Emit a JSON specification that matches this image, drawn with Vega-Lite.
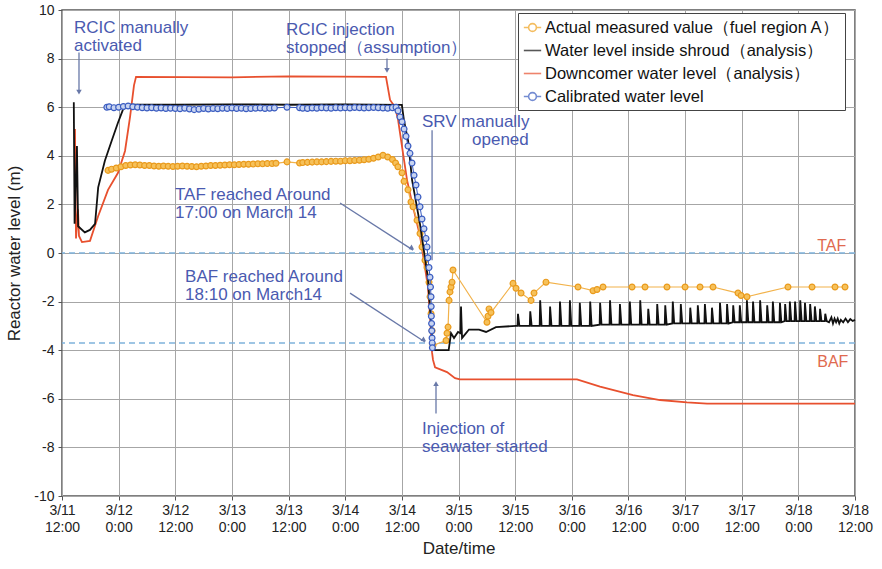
{
"$schema": "https://vega.github.io/schema/vega-lite/v6.json",
"width": 793, "height": 486,
"autosize": {"type": "none"},
"padding": {"left": 62, "top": 10, "right": 27, "bottom": 73},
"background": "white",
"config": {
  "font": "Liberation Sans",
  "view": {"stroke": "#555", "strokeWidth": 1.5},
  "axis": {"labelFont": "Liberation Sans", "titleFont": "Liberation Sans", "labelFontSize": 14, "labelColor": "#222", "titleColor": "#222", "titleFontSize": 17, "titleFontWeight": "normal", "gridColor": "#a6a6a6", "gridWidth": 1, "gridOpacity": 1, "domain": false, "tickColor": "#555", "tickSize": 4}
},
"datasets": {
"levels": [
{"series":"Downcomer water level（analysis）","time":"2011-03-11T14:45Z","level":5.1},
{"series":"Downcomer water level（analysis）","time":"2011-03-11T14:58Z","level":0.6},
{"series":"Downcomer water level（analysis）","time":"2011-03-11T15:23Z","level":1.8},
{"series":"Downcomer water level（analysis）","time":"2011-03-11T15:36Z","level":0.7},
{"series":"Downcomer water level（analysis）","time":"2011-03-11T16:14Z","level":0.45},
{"series":"Downcomer water level（analysis）","time":"2011-03-11T17:56Z","level":0.5},
{"series":"Downcomer water level（analysis）","time":"2011-03-11T19:38Z","level":1.5},
{"series":"Downcomer water level（analysis）","time":"2011-03-11T21:45Z","level":2.6},
{"series":"Downcomer water level（analysis）","time":"2011-03-11T23:52Z","level":3.3},
{"series":"Downcomer water level（analysis）","time":"2011-03-12T01:21Z","level":4.2},
{"series":"Downcomer water level（analysis）","time":"2011-03-12T02:25Z","level":5.6},
{"series":"Downcomer water level（analysis）","time":"2011-03-12T03:15Z","level":6.9},
{"series":"Downcomer water level（analysis）","time":"2011-03-12T03:41Z","level":7.25},
{"series":"Downcomer water level（analysis）","time":"2011-03-13T00:00Z","level":7.23},
{"series":"Downcomer water level（analysis）","time":"2011-03-13T12:00Z","level":7.27},
{"series":"Downcomer water level（analysis）","time":"2011-03-14T08:38Z","level":7.25},
{"series":"Downcomer water level（analysis）","time":"2011-03-14T09:30Z","level":6.3},
{"series":"Downcomer water level（analysis）","time":"2011-03-14T10:33Z","level":6.0},
{"series":"Downcomer water level（analysis）","time":"2011-03-14T11:11Z","level":5.5},
{"series":"Downcomer water level（analysis）","time":"2011-03-14T12:15Z","level":4.1},
{"series":"Downcomer water level（analysis）","time":"2011-03-14T13:06Z","level":3.0},
{"series":"Downcomer water level（analysis）","time":"2011-03-14T14:22Z","level":1.9},
{"series":"Downcomer water level（analysis）","time":"2011-03-14T15:51Z","level":0.7},
{"series":"Downcomer water level（analysis）","time":"2011-03-14T16:54Z","level":-0.6},
{"series":"Downcomer water level（analysis）","time":"2011-03-14T17:32Z","level":-1.4},
{"series":"Downcomer water level（analysis）","time":"2011-03-14T17:58Z","level":-2.6},
{"series":"Downcomer water level（analysis）","time":"2011-03-14T18:24Z","level":-4.1},
{"series":"Downcomer water level（analysis）","time":"2011-03-14T18:36Z","level":-4.4},
{"series":"Downcomer water level（analysis）","time":"2011-03-14T19:02Z","level":-4.7},
{"series":"Downcomer water level（analysis）","time":"2011-03-14T21:34Z","level":-4.9},
{"series":"Downcomer water level（analysis）","time":"2011-03-14T23:16Z","level":-5.15},
{"series":"Downcomer water level（analysis）","time":"2011-03-15T00:19Z","level":-5.2},
{"series":"Downcomer water level（analysis）","time":"2011-03-16T01:06Z","level":-5.2},
{"series":"Downcomer water level（analysis）","time":"2011-03-16T05:59Z","level":-5.5},
{"series":"Downcomer water level（analysis）","time":"2011-03-16T12:58Z","level":-5.85},
{"series":"Downcomer water level（analysis）","time":"2011-03-16T18:41Z","level":-6.05},
{"series":"Downcomer water level（analysis）","time":"2011-03-17T00:24Z","level":-6.15},
{"series":"Downcomer water level（analysis）","time":"2011-03-17T04:39Z","level":-6.2},
{"series":"Downcomer water level（analysis）","time":"2011-03-18T12:00Z","level":-6.2},

{"series":"Water level inside shroud（analysis）","time":"2011-03-11T14:30Z","level":6.2},
{"series":"Water level inside shroud（analysis）","time":"2011-03-11T14:40Z","level":1.2},
{"series":"Water level inside shroud（analysis）","time":"2011-03-11T15:10Z","level":4.4},
{"series":"Water level inside shroud（analysis）","time":"2011-03-11T15:25Z","level":1.1},
{"series":"Water level inside shroud（analysis）","time":"2011-03-11T16:50Z","level":0.85},
{"series":"Water level inside shroud（analysis）","time":"2011-03-11T17:55Z","level":0.95},
{"series":"Water level inside shroud（analysis）","time":"2011-03-11T19:00Z","level":1.2},
{"series":"Water level inside shroud（analysis）","time":"2011-03-11T19:40Z","level":2.7},
{"series":"Water level inside shroud（analysis）","time":"2011-03-11T21:05Z","level":3.8},
{"series":"Water level inside shroud（analysis）","time":"2011-03-11T22:35Z","level":4.65},
{"series":"Water level inside shroud（analysis）","time":"2011-03-11T23:50Z","level":5.35},
{"series":"Water level inside shroud（analysis）","time":"2011-03-12T00:55Z","level":5.9},
{"series":"Water level inside shroud（analysis）","time":"2011-03-12T02:25Z","level":6.1},
{"series":"Water level inside shroud（analysis）","time":"2011-03-12T12:00Z","level":6.1},
{"series":"Water level inside shroud（analysis）","time":"2011-03-13T00:00Z","level":6.12},
{"series":"Water level inside shroud（analysis）","time":"2011-03-13T12:00Z","level":6.1},
{"series":"Water level inside shroud（analysis）","time":"2011-03-14T00:00Z","level":6.12},
{"series":"Water level inside shroud（analysis）","time":"2011-03-14T12:00Z","level":6.1},
{"series":"Water level inside shroud（analysis）","time":"2011-03-14T12:25Z","level":5.5},
{"series":"Water level inside shroud（analysis）","time":"2011-03-14T13:20Z","level":4.6},
{"series":"Water level inside shroud（analysis）","time":"2011-03-14T14:10Z","level":3.0},
{"series":"Water level inside shroud（analysis）","time":"2011-03-14T15:50Z","level":1.2},
{"series":"Water level inside shroud（analysis）","time":"2011-03-14T17:30Z","level":-1.0},
{"series":"Water level inside shroud（analysis）","time":"2011-03-14T18:35Z","level":-4.0},
{"series":"Water level inside shroud（analysis）","time":"2011-03-14T21:55Z","level":-4.0},
{"series":"Water level inside shroud（analysis）","time":"2011-03-14T22:25Z","level":-3.3},
{"series":"Water level inside shroud（analysis）","time":"2011-03-14T23:03Z","level":-3.5},
{"series":"Water level inside shroud（analysis）","time":"2011-03-14T23:54Z","level":-3.25},
{"series":"Water level inside shroud（analysis）","time":"2011-03-15T00:25Z","level":-3.3},
{"series":"Water level inside shroud（analysis）","time":"2011-03-15T00:32Z","level":-2.2},
{"series":"Water level inside shroud（analysis）","time":"2011-03-15T00:45Z","level":-3.5},
{"series":"Water level inside shroud（analysis）","time":"2011-03-15T01:36Z","level":-3.3},
{"series":"Water level inside shroud（analysis）","time":"2011-03-15T02:13Z","level":-3.15},
{"series":"Water level inside shroud（analysis）","time":"2011-03-15T04:21Z","level":-3.15},
{"series":"Water level inside shroud（analysis）","time":"2011-03-15T05:50Z","level":-3.25},
{"series":"Water level inside shroud（analysis）","time":"2011-03-15T07:56Z","level":-3.05},
{"series":"Water level inside shroud（analysis）","time":"2011-03-15T12:11Z","level":-3.0},
{"series":"Water level inside shroud（analysis）","time":"2011-03-15T12:30Z","level":-3.0},
{"series":"Water level inside shroud（analysis）","time":"2011-03-15T12:36Z","level":-2.5},
{"series":"Water level inside shroud（analysis）","time":"2011-03-15T12:54Z","level":-3.0},
{"series":"Water level inside shroud（analysis）","time":"2011-03-15T15:06Z","level":-3.0},
{"series":"Water level inside shroud（analysis）","time":"2011-03-15T15:12Z","level":-2.4},
{"series":"Water level inside shroud（analysis）","time":"2011-03-15T15:30Z","level":-3.0},
{"series":"Water level inside shroud（analysis）","time":"2011-03-15T17:12Z","level":-3.0},
{"series":"Water level inside shroud（analysis）","time":"2011-03-15T17:18Z","level":-1.95},
{"series":"Water level inside shroud（analysis）","time":"2011-03-15T17:36Z","level":-3.0},
{"series":"Water level inside shroud（analysis）","time":"2011-03-15T19:18Z","level":-3.0},
{"series":"Water level inside shroud（analysis）","time":"2011-03-15T19:24Z","level":-2.2},
{"series":"Water level inside shroud（analysis）","time":"2011-03-15T19:42Z","level":-3.0},
{"series":"Water level inside shroud（analysis）","time":"2011-03-15T21:24Z","level":-3.0},
{"series":"Water level inside shroud（analysis）","time":"2011-03-15T21:30Z","level":-2.0},
{"series":"Water level inside shroud（analysis）","time":"2011-03-15T21:48Z","level":-3.0},
{"series":"Water level inside shroud（analysis）","time":"2011-03-15T23:30Z","level":-3.0},
{"series":"Water level inside shroud（analysis）","time":"2011-03-15T23:36Z","level":-1.95},
{"series":"Water level inside shroud（analysis）","time":"2011-03-15T23:54Z","level":-3.0},
{"series":"Water level inside shroud（analysis）","time":"2011-03-16T01:36Z","level":-3.0},
{"series":"Water level inside shroud（analysis）","time":"2011-03-16T01:42Z","level":-2.05},
{"series":"Water level inside shroud（analysis）","time":"2011-03-16T02:00Z","level":-3.0},
{"series":"Water level inside shroud（analysis）","time":"2011-03-16T03:48Z","level":-3.0},
{"series":"Water level inside shroud（analysis）","time":"2011-03-16T03:54Z","level":-2.0},
{"series":"Water level inside shroud（analysis）","time":"2011-03-16T04:12Z","level":-3.0},
{"series":"Water level inside shroud（analysis）","time":"2011-03-16T05:54Z","level":-2.95},
{"series":"Water level inside shroud（analysis）","time":"2011-03-16T06:00Z","level":-2.05},
{"series":"Water level inside shroud（analysis）","time":"2011-03-16T06:18Z","level":-2.95},
{"series":"Water level inside shroud（analysis）","time":"2011-03-16T08:00Z","level":-2.95},
{"series":"Water level inside shroud（analysis）","time":"2011-03-16T08:06Z","level":-1.95},
{"series":"Water level inside shroud（analysis）","time":"2011-03-16T08:24Z","level":-2.95},
{"series":"Water level inside shroud（analysis）","time":"2011-03-16T10:06Z","level":-2.95},
{"series":"Water level inside shroud（analysis）","time":"2011-03-16T10:12Z","level":-2.1},
{"series":"Water level inside shroud（analysis）","time":"2011-03-16T10:30Z","level":-2.95},
{"series":"Water level inside shroud（analysis）","time":"2011-03-16T12:12Z","level":-2.95},
{"series":"Water level inside shroud（analysis）","time":"2011-03-16T12:18Z","level":-2.0},
{"series":"Water level inside shroud（analysis）","time":"2011-03-16T12:36Z","level":-2.95},
{"series":"Water level inside shroud（analysis）","time":"2011-03-16T14:24Z","level":-2.95},
{"series":"Water level inside shroud（analysis）","time":"2011-03-16T14:30Z","level":-1.95},
{"series":"Water level inside shroud（analysis）","time":"2011-03-16T14:48Z","level":-2.95},
{"series":"Water level inside shroud（analysis）","time":"2011-03-16T16:06Z","level":-2.95},
{"series":"Water level inside shroud（analysis）","time":"2011-03-16T16:12Z","level":-2.3},
{"series":"Water level inside shroud（analysis）","time":"2011-03-16T16:30Z","level":-2.95},
{"series":"Water level inside shroud（analysis）","time":"2011-03-16T18:00Z","level":-2.95},
{"series":"Water level inside shroud（analysis）","time":"2011-03-16T18:06Z","level":-2.1},
{"series":"Water level inside shroud（analysis）","time":"2011-03-16T18:24Z","level":-2.95},
{"series":"Water level inside shroud（analysis）","time":"2011-03-16T19:42Z","level":-2.95},
{"series":"Water level inside shroud（analysis）","time":"2011-03-16T19:48Z","level":-2.15},
{"series":"Water level inside shroud（analysis）","time":"2011-03-16T20:06Z","level":-2.95},
{"series":"Water level inside shroud（analysis）","time":"2011-03-16T21:18Z","level":-2.9},
{"series":"Water level inside shroud（analysis）","time":"2011-03-16T21:24Z","level":-2.0},
{"series":"Water level inside shroud（analysis）","time":"2011-03-16T21:42Z","level":-2.9},
{"series":"Water level inside shroud（analysis）","time":"2011-03-16T23:00Z","level":-2.9},
{"series":"Water level inside shroud（analysis）","time":"2011-03-16T23:06Z","level":-2.1},
{"series":"Water level inside shroud（analysis）","time":"2011-03-16T23:24Z","level":-2.9},
{"series":"Water level inside shroud（analysis）","time":"2011-03-17T01:00Z","level":-2.9},
{"series":"Water level inside shroud（analysis）","time":"2011-03-17T01:06Z","level":-2.25},
{"series":"Water level inside shroud（analysis）","time":"2011-03-17T01:24Z","level":-2.9},
{"series":"Water level inside shroud（analysis）","time":"2011-03-17T02:36Z","level":-2.9},
{"series":"Water level inside shroud（analysis）","time":"2011-03-17T02:42Z","level":-2.15},
{"series":"Water level inside shroud（analysis）","time":"2011-03-17T03:00Z","level":-2.9},
{"series":"Water level inside shroud（analysis）","time":"2011-03-17T04:06Z","level":-2.9},
{"series":"Water level inside shroud（analysis）","time":"2011-03-17T04:12Z","level":-2.1},
{"series":"Water level inside shroud（analysis）","time":"2011-03-17T04:30Z","level":-2.9},
{"series":"Water level inside shroud（analysis）","time":"2011-03-17T05:36Z","level":-2.9},
{"series":"Water level inside shroud（analysis）","time":"2011-03-17T05:42Z","level":-2.25},
{"series":"Water level inside shroud（analysis）","time":"2011-03-17T06:00Z","level":-2.9},
{"series":"Water level inside shroud（analysis）","time":"2011-03-17T07:18Z","level":-2.9},
{"series":"Water level inside shroud（analysis）","time":"2011-03-17T07:24Z","level":-2.05},
{"series":"Water level inside shroud（analysis）","time":"2011-03-17T07:42Z","level":-2.9},
{"series":"Water level inside shroud（analysis）","time":"2011-03-17T08:48Z","level":-2.9},
{"series":"Water level inside shroud（analysis）","time":"2011-03-17T08:54Z","level":-2.1},
{"series":"Water level inside shroud（analysis）","time":"2011-03-17T09:12Z","level":-2.9},
{"series":"Water level inside shroud（analysis）","time":"2011-03-17T10:06Z","level":-2.85},
{"series":"Water level inside shroud（analysis）","time":"2011-03-17T10:12Z","level":-2.15},
{"series":"Water level inside shroud（analysis）","time":"2011-03-17T10:30Z","level":-2.85},
{"series":"Water level inside shroud（analysis）","time":"2011-03-17T11:30Z","level":-2.85},
{"series":"Water level inside shroud（analysis）","time":"2011-03-17T11:36Z","level":-2.15},
{"series":"Water level inside shroud（analysis）","time":"2011-03-17T11:54Z","level":-2.85},
{"series":"Water level inside shroud（analysis）","time":"2011-03-17T13:00Z","level":-2.85},
{"series":"Water level inside shroud（analysis）","time":"2011-03-17T13:06Z","level":-1.95},
{"series":"Water level inside shroud（analysis）","time":"2011-03-17T13:24Z","level":-2.85},
{"series":"Water level inside shroud（analysis）","time":"2011-03-17T14:18Z","level":-2.85},
{"series":"Water level inside shroud（analysis）","time":"2011-03-17T14:24Z","level":-2.0},
{"series":"Water level inside shroud（analysis）","time":"2011-03-17T14:42Z","level":-2.85},
{"series":"Water level inside shroud（analysis）","time":"2011-03-17T15:48Z","level":-2.85},
{"series":"Water level inside shroud（analysis）","time":"2011-03-17T15:54Z","level":-1.95},
{"series":"Water level inside shroud（analysis）","time":"2011-03-17T16:12Z","level":-2.85},
{"series":"Water level inside shroud（analysis）","time":"2011-03-17T17:18Z","level":-2.85},
{"series":"Water level inside shroud（analysis）","time":"2011-03-17T17:24Z","level":-2.15},
{"series":"Water level inside shroud（analysis）","time":"2011-03-17T17:42Z","level":-2.85},
{"series":"Water level inside shroud（analysis）","time":"2011-03-17T18:30Z","level":-2.85},
{"series":"Water level inside shroud（analysis）","time":"2011-03-17T18:36Z","level":-2.0},
{"series":"Water level inside shroud（analysis）","time":"2011-03-17T18:54Z","level":-2.85},
{"series":"Water level inside shroud（analysis）","time":"2011-03-17T20:00Z","level":-2.85},
{"series":"Water level inside shroud（analysis）","time":"2011-03-17T20:06Z","level":-2.05},
{"series":"Water level inside shroud（analysis）","time":"2011-03-17T20:24Z","level":-2.85},
{"series":"Water level inside shroud（analysis）","time":"2011-03-17T21:06Z","level":-2.8},
{"series":"Water level inside shroud（analysis）","time":"2011-03-17T21:12Z","level":-2.1},
{"series":"Water level inside shroud（analysis）","time":"2011-03-17T21:30Z","level":-2.8},
{"series":"Water level inside shroud（analysis）","time":"2011-03-17T22:06Z","level":-2.8},
{"series":"Water level inside shroud（analysis）","time":"2011-03-17T22:12Z","level":-2.0},
{"series":"Water level inside shroud（analysis）","time":"2011-03-17T22:30Z","level":-2.8},
{"series":"Water level inside shroud（analysis）","time":"2011-03-17T23:12Z","level":-2.8},
{"series":"Water level inside shroud（analysis）","time":"2011-03-17T23:18Z","level":-2.0},
{"series":"Water level inside shroud（analysis）","time":"2011-03-17T23:36Z","level":-2.8},
{"series":"Water level inside shroud（analysis）","time":"2011-03-18T00:18Z","level":-2.8},
{"series":"Water level inside shroud（analysis）","time":"2011-03-18T00:24Z","level":-1.95},
{"series":"Water level inside shroud（analysis）","time":"2011-03-18T00:42Z","level":-2.8},
{"series":"Water level inside shroud（analysis）","time":"2011-03-18T01:18Z","level":-2.8},
{"series":"Water level inside shroud（analysis）","time":"2011-03-18T01:24Z","level":-2.05},
{"series":"Water level inside shroud（analysis）","time":"2011-03-18T01:42Z","level":-2.8},
{"series":"Water level inside shroud（analysis）","time":"2011-03-18T02:24Z","level":-2.8},
{"series":"Water level inside shroud（analysis）","time":"2011-03-18T02:30Z","level":-2.1},
{"series":"Water level inside shroud（analysis）","time":"2011-03-18T02:48Z","level":-2.8},
{"series":"Water level inside shroud（analysis）","time":"2011-03-18T03:24Z","level":-2.8},
{"series":"Water level inside shroud（analysis）","time":"2011-03-18T03:30Z","level":-2.2},
{"series":"Water level inside shroud（analysis）","time":"2011-03-18T03:48Z","level":-2.8},
{"series":"Water level inside shroud（analysis）","time":"2011-03-18T04:30Z","level":-2.8},
{"series":"Water level inside shroud（analysis）","time":"2011-03-18T04:36Z","level":-2.3},
{"series":"Water level inside shroud（analysis）","time":"2011-03-18T04:54Z","level":-2.8},
{"series":"Water level inside shroud（analysis）","time":"2011-03-18T05:36Z","level":-2.8},
{"series":"Water level inside shroud（analysis）","time":"2011-03-18T05:42Z","level":-2.5},
{"series":"Water level inside shroud（analysis）","time":"2011-03-18T06:00Z","level":-2.8},
{"series":"Water level inside shroud（analysis）","time":"2011-03-18T06:30Z","level":-2.85},
{"series":"Water level inside shroud（analysis）","time":"2011-03-18T07:00Z","level":-2.65},
{"series":"Water level inside shroud（analysis）","time":"2011-03-18T07:20Z","level":-2.9},
{"series":"Water level inside shroud（analysis）","time":"2011-03-18T07:40Z","level":-2.7},
{"series":"Water level inside shroud（analysis）","time":"2011-03-18T08:00Z","level":-2.85},
{"series":"Water level inside shroud（analysis）","time":"2011-03-18T08:20Z","level":-2.7},
{"series":"Water level inside shroud（analysis）","time":"2011-03-18T08:40Z","level":-2.9},
{"series":"Water level inside shroud（analysis）","time":"2011-03-18T09:00Z","level":-2.75},
{"series":"Water level inside shroud（analysis）","time":"2011-03-18T09:30Z","level":-2.85},
{"series":"Water level inside shroud（analysis）","time":"2011-03-18T10:00Z","level":-2.7},
{"series":"Water level inside shroud（analysis）","time":"2011-03-18T10:30Z","level":-2.85},
{"series":"Water level inside shroud（analysis）","time":"2011-03-18T11:00Z","level":-2.72},
{"series":"Water level inside shroud（analysis）","time":"2011-03-18T11:30Z","level":-2.8},
{"series":"Water level inside shroud（analysis）","time":"2011-03-18T12:00Z","level":-2.75},

{"series":"Actual measured value（fuel region A）","time":"2011-03-11T21:45Z","level":3.4},
{"series":"Actual measured value（fuel region A）","time":"2011-03-11T22:30Z","level":3.45},
{"series":"Actual measured value（fuel region A）","time":"2011-03-11T23:30Z","level":3.5},
{"series":"Actual measured value（fuel region A）","time":"2011-03-12T00:30Z","level":3.55},
{"series":"Actual measured value（fuel region A）","time":"2011-03-12T01:30Z","level":3.6},
{"series":"Actual measured value（fuel region A）","time":"2011-03-12T02:30Z","level":3.62},
{"series":"Actual measured value（fuel region A）","time":"2011-03-12T03:30Z","level":3.63},
{"series":"Actual measured value（fuel region A）","time":"2011-03-12T04:30Z","level":3.62},
{"series":"Actual measured value（fuel region A）","time":"2011-03-12T05:30Z","level":3.6},
{"series":"Actual measured value（fuel region A）","time":"2011-03-12T06:30Z","level":3.6},
{"series":"Actual measured value（fuel region A）","time":"2011-03-12T07:30Z","level":3.58},
{"series":"Actual measured value（fuel region A）","time":"2011-03-12T08:30Z","level":3.57},
{"series":"Actual measured value（fuel region A）","time":"2011-03-12T09:30Z","level":3.58},
{"series":"Actual measured value（fuel region A）","time":"2011-03-12T10:30Z","level":3.57},
{"series":"Actual measured value（fuel region A）","time":"2011-03-12T11:30Z","level":3.56},
{"series":"Actual measured value（fuel region A）","time":"2011-03-12T12:30Z","level":3.57},
{"series":"Actual measured value（fuel region A）","time":"2011-03-12T13:30Z","level":3.58},
{"series":"Actual measured value（fuel region A）","time":"2011-03-12T14:30Z","level":3.57},
{"series":"Actual measured value（fuel region A）","time":"2011-03-12T15:30Z","level":3.56},
{"series":"Actual measured value（fuel region A）","time":"2011-03-12T16:30Z","level":3.55},
{"series":"Actual measured value（fuel region A）","time":"2011-03-12T17:30Z","level":3.57},
{"series":"Actual measured value（fuel region A）","time":"2011-03-12T18:30Z","level":3.58},
{"series":"Actual measured value（fuel region A）","time":"2011-03-12T19:30Z","level":3.6},
{"series":"Actual measured value（fuel region A）","time":"2011-03-12T20:30Z","level":3.6},
{"series":"Actual measured value（fuel region A）","time":"2011-03-12T21:30Z","level":3.61},
{"series":"Actual measured value（fuel region A）","time":"2011-03-12T22:30Z","level":3.62},
{"series":"Actual measured value（fuel region A）","time":"2011-03-12T23:30Z","level":3.63},
{"series":"Actual measured value（fuel region A）","time":"2011-03-13T00:30Z","level":3.63},
{"series":"Actual measured value（fuel region A）","time":"2011-03-13T01:30Z","level":3.64},
{"series":"Actual measured value（fuel region A）","time":"2011-03-13T02:30Z","level":3.65},
{"series":"Actual measured value（fuel region A）","time":"2011-03-13T03:30Z","level":3.65},
{"series":"Actual measured value（fuel region A）","time":"2011-03-13T04:30Z","level":3.66},
{"series":"Actual measured value（fuel region A）","time":"2011-03-13T05:30Z","level":3.67},
{"series":"Actual measured value（fuel region A）","time":"2011-03-13T06:30Z","level":3.67},
{"series":"Actual measured value（fuel region A）","time":"2011-03-13T07:30Z","level":3.68},
{"series":"Actual measured value（fuel region A）","time":"2011-03-13T08:30Z","level":3.68},
{"series":"Actual measured value（fuel region A）","time":"2011-03-13T09:20Z","level":3.69},
{"series":"Actual measured value（fuel region A）","time":"2011-03-13T11:40Z","level":3.75},
{"series":"Actual measured value（fuel region A）","time":"2011-03-13T14:20Z","level":3.7},
{"series":"Actual measured value（fuel region A）","time":"2011-03-13T15:00Z","level":3.72},
{"series":"Actual measured value（fuel region A）","time":"2011-03-13T16:00Z","level":3.73},
{"series":"Actual measured value（fuel region A）","time":"2011-03-13T17:00Z","level":3.74},
{"series":"Actual measured value（fuel region A）","time":"2011-03-13T18:00Z","level":3.75},
{"series":"Actual measured value（fuel region A）","time":"2011-03-13T19:00Z","level":3.75},
{"series":"Actual measured value（fuel region A）","time":"2011-03-13T20:00Z","level":3.76},
{"series":"Actual measured value（fuel region A）","time":"2011-03-13T21:00Z","level":3.77},
{"series":"Actual measured value（fuel region A）","time":"2011-03-13T22:00Z","level":3.78},
{"series":"Actual measured value（fuel region A）","time":"2011-03-13T23:00Z","level":3.78},
{"series":"Actual measured value（fuel region A）","time":"2011-03-14T00:00Z","level":3.8},
{"series":"Actual measured value（fuel region A）","time":"2011-03-14T01:00Z","level":3.8},
{"series":"Actual measured value（fuel region A）","time":"2011-03-14T02:00Z","level":3.81},
{"series":"Actual measured value（fuel region A）","time":"2011-03-14T03:00Z","level":3.82},
{"series":"Actual measured value（fuel region A）","time":"2011-03-14T04:00Z","level":3.84},
{"series":"Actual measured value（fuel region A）","time":"2011-03-14T05:00Z","level":3.86},
{"series":"Actual measured value（fuel region A）","time":"2011-03-14T06:00Z","level":3.9},
{"series":"Actual measured value（fuel region A）","time":"2011-03-14T07:00Z","level":3.95},
{"series":"Actual measured value（fuel region A）","time":"2011-03-14T08:00Z","level":4.02},
{"series":"Actual measured value（fuel region A）","time":"2011-03-14T09:00Z","level":3.95},
{"series":"Actual measured value（fuel region A）","time":"2011-03-14T10:00Z","level":3.85},
{"series":"Actual measured value（fuel region A）","time":"2011-03-14T10:40Z","level":3.7},
{"series":"Actual measured value（fuel region A）","time":"2011-03-14T11:10Z","level":3.55},
{"series":"Actual measured value（fuel region A）","time":"2011-03-14T12:02Z","level":3.3},
{"series":"Actual measured value（fuel region A）","time":"2011-03-14T12:28Z","level":2.95},
{"series":"Actual measured value（fuel region A）","time":"2011-03-14T13:18Z","level":2.6},
{"series":"Actual measured value（fuel region A）","time":"2011-03-14T13:56Z","level":2.1},
{"series":"Actual measured value（fuel region A）","time":"2011-03-14T14:22Z","level":1.9},
{"series":"Actual measured value（fuel region A）","time":"2011-03-14T15:13Z","level":1.35},
{"series":"Actual measured value（fuel region A）","time":"2011-03-14T15:51Z","level":0.8},
{"series":"Actual measured value（fuel region A）","time":"2011-03-14T16:16Z","level":0.25},
{"series":"Actual measured value（fuel region A）","time":"2011-03-14T16:54Z","level":-0.3},
{"series":"Actual measured value（fuel region A）","time":"2011-03-14T17:20Z","level":-0.6},
{"series":"Actual measured value（fuel region A）","time":"2011-03-14T17:45Z","level":-1.2},
{"series":"Actual measured value（fuel region A）","time":"2011-03-14T17:58Z","level":-1.8},
{"series":"Actual measured value（fuel region A）","time":"2011-03-14T18:11Z","level":-2.5},
{"series":"Actual measured value（fuel region A）","time":"2011-03-14T18:24Z","level":-3.2},
{"series":"Actual measured value（fuel region A）","time":"2011-03-14T18:36Z","level":-3.8},
{"series":"Actual measured value（fuel region A）","time":"2011-03-14T21:22Z","level":-3.6},
{"series":"Actual measured value（fuel region A）","time":"2011-03-14T21:34Z","level":-3.3},
{"series":"Actual measured value（fuel region A）","time":"2011-03-14T21:47Z","level":-3.05},
{"series":"Actual measured value（fuel region A）","time":"2011-03-14T22:00Z","level":-1.95},
{"series":"Actual measured value（fuel region A）","time":"2011-03-14T22:12Z","level":-1.6},
{"series":"Actual measured value（fuel region A）","time":"2011-03-14T22:25Z","level":-1.4},
{"series":"Actual measured value（fuel region A）","time":"2011-03-14T22:38Z","level":-1.2},
{"series":"Actual measured value（fuel region A）","time":"2011-03-14T22:50Z","level":-0.7},
{"series":"Actual measured value（fuel region A）","time":"2011-03-15T06:02Z","level":-2.85},
{"series":"Actual measured value（fuel region A）","time":"2011-03-15T06:15Z","level":-2.6},
{"series":"Actual measured value（fuel region A）","time":"2011-03-15T06:28Z","level":-2.3},
{"series":"Actual measured value（fuel region A）","time":"2011-03-15T06:53Z","level":-2.45},
{"series":"Actual measured value（fuel region A）","time":"2011-03-15T11:33Z","level":-1.25},
{"series":"Actual measured value（fuel region A）","time":"2011-03-15T12:11Z","level":-1.45},
{"series":"Actual measured value（fuel region A）","time":"2011-03-15T13:15Z","level":-1.65},
{"series":"Actual measured value（fuel region A）","time":"2011-03-15T15:22Z","level":-1.95},
{"series":"Actual measured value（fuel region A）","time":"2011-03-15T16:00Z","level":-1.65},
{"series":"Actual measured value（fuel region A）","time":"2011-03-15T18:32Z","level":-1.2},
{"series":"Actual measured value（fuel region A）","time":"2011-03-16T01:19Z","level":-1.4},
{"series":"Actual measured value（fuel region A）","time":"2011-03-16T04:30Z","level":-1.55},
{"series":"Actual measured value（fuel region A）","time":"2011-03-16T05:21Z","level":-1.5},
{"series":"Actual measured value（fuel region A）","time":"2011-03-16T06:37Z","level":-1.4},
{"series":"Actual measured value（fuel region A）","time":"2011-03-16T12:46Z","level":-1.4},
{"series":"Actual measured value（fuel region A）","time":"2011-03-16T15:31Z","level":-1.4},
{"series":"Actual measured value（fuel region A）","time":"2011-03-16T20:10Z","level":-1.4},
{"series":"Actual measured value（fuel region A）","time":"2011-03-17T00:00Z","level":-1.4},
{"series":"Actual measured value（fuel region A）","time":"2011-03-17T03:10Z","level":-1.4},
{"series":"Actual measured value（fuel region A）","time":"2011-03-17T05:55Z","level":-1.4},
{"series":"Actual measured value（fuel region A）","time":"2011-03-17T11:13Z","level":-1.65},
{"series":"Actual measured value（fuel region A）","time":"2011-03-17T11:52Z","level":-1.75},
{"series":"Actual measured value（fuel region A）","time":"2011-03-17T13:07Z","level":-1.8},
{"series":"Actual measured value（fuel region A）","time":"2011-03-17T21:48Z","level":-1.4},
{"series":"Actual measured value（fuel region A）","time":"2011-03-18T02:54Z","level":-1.4},
{"series":"Actual measured value（fuel region A）","time":"2011-03-18T07:46Z","level":-1.4},
{"series":"Actual measured value（fuel region A）","time":"2011-03-18T09:53Z","level":-1.4},

{"series":"Calibrated water level","time":"2011-03-11T21:30Z","level":6.0},
{"series":"Calibrated water level","time":"2011-03-11T22:00Z","level":6.02},
{"series":"Calibrated water level","time":"2011-03-11T23:00Z","level":5.98},
{"series":"Calibrated water level","time":"2011-03-12T00:00Z","level":6.0},
{"series":"Calibrated water level","time":"2011-03-12T01:00Z","level":6.03},
{"series":"Calibrated water level","time":"2011-03-12T02:00Z","level":6.05},
{"series":"Calibrated water level","time":"2011-03-12T03:00Z","level":6.02},
{"series":"Calibrated water level","time":"2011-03-12T04:00Z","level":6.0},
{"series":"Calibrated water level","time":"2011-03-12T05:00Z","level":5.98},
{"series":"Calibrated water level","time":"2011-03-12T06:00Z","level":5.97},
{"series":"Calibrated water level","time":"2011-03-12T07:00Z","level":5.98},
{"series":"Calibrated water level","time":"2011-03-12T08:00Z","level":5.96},
{"series":"Calibrated water level","time":"2011-03-12T09:00Z","level":5.97},
{"series":"Calibrated water level","time":"2011-03-12T10:00Z","level":5.95},
{"series":"Calibrated water level","time":"2011-03-12T11:00Z","level":5.96},
{"series":"Calibrated water level","time":"2011-03-12T12:00Z","level":5.95},
{"series":"Calibrated water level","time":"2011-03-12T13:00Z","level":5.94},
{"series":"Calibrated water level","time":"2011-03-12T14:00Z","level":5.96},
{"series":"Calibrated water level","time":"2011-03-12T15:00Z","level":5.93},
{"series":"Calibrated water level","time":"2011-03-12T16:00Z","level":5.9},
{"series":"Calibrated water level","time":"2011-03-12T17:00Z","level":5.92},
{"series":"Calibrated water level","time":"2011-03-12T18:00Z","level":5.95},
{"series":"Calibrated water level","time":"2011-03-12T19:00Z","level":5.93},
{"series":"Calibrated water level","time":"2011-03-12T20:00Z","level":5.95},
{"series":"Calibrated water level","time":"2011-03-12T21:00Z","level":5.94},
{"series":"Calibrated water level","time":"2011-03-12T22:00Z","level":5.96},
{"series":"Calibrated water level","time":"2011-03-12T23:00Z","level":5.95},
{"series":"Calibrated water level","time":"2011-03-13T00:00Z","level":5.97},
{"series":"Calibrated water level","time":"2011-03-13T01:00Z","level":5.95},
{"series":"Calibrated water level","time":"2011-03-13T02:00Z","level":5.96},
{"series":"Calibrated water level","time":"2011-03-13T03:00Z","level":5.94},
{"series":"Calibrated water level","time":"2011-03-13T04:00Z","level":5.95},
{"series":"Calibrated water level","time":"2011-03-13T05:00Z","level":5.96},
{"series":"Calibrated water level","time":"2011-03-13T06:00Z","level":5.97},
{"series":"Calibrated water level","time":"2011-03-13T07:00Z","level":5.95},
{"series":"Calibrated water level","time":"2011-03-13T08:00Z","level":5.96},
{"series":"Calibrated water level","time":"2011-03-13T09:00Z","level":5.97},
{"series":"Calibrated water level","time":"2011-03-13T11:40Z","level":6.0},
{"series":"Calibrated water level","time":"2011-03-13T14:20Z","level":5.98},
{"series":"Calibrated water level","time":"2011-03-13T15:00Z","level":5.96},
{"series":"Calibrated water level","time":"2011-03-13T16:00Z","level":5.95},
{"series":"Calibrated water level","time":"2011-03-13T17:00Z","level":5.97},
{"series":"Calibrated water level","time":"2011-03-13T18:00Z","level":5.96},
{"series":"Calibrated water level","time":"2011-03-13T19:00Z","level":5.98},
{"series":"Calibrated water level","time":"2011-03-13T20:00Z","level":5.97},
{"series":"Calibrated water level","time":"2011-03-13T21:00Z","level":5.96},
{"series":"Calibrated water level","time":"2011-03-13T22:00Z","level":5.98},
{"series":"Calibrated water level","time":"2011-03-13T23:00Z","level":5.97},
{"series":"Calibrated water level","time":"2011-03-14T00:00Z","level":5.98},
{"series":"Calibrated water level","time":"2011-03-14T01:00Z","level":5.97},
{"series":"Calibrated water level","time":"2011-03-14T02:00Z","level":5.99},
{"series":"Calibrated water level","time":"2011-03-14T03:00Z","level":5.98},
{"series":"Calibrated water level","time":"2011-03-14T04:00Z","level":5.97},
{"series":"Calibrated water level","time":"2011-03-14T05:00Z","level":5.98},
{"series":"Calibrated water level","time":"2011-03-14T06:00Z","level":5.99},
{"series":"Calibrated water level","time":"2011-03-14T07:00Z","level":5.98},
{"series":"Calibrated water level","time":"2011-03-14T08:00Z","level":5.97},
{"series":"Calibrated water level","time":"2011-03-14T09:00Z","level":5.96},
{"series":"Calibrated water level","time":"2011-03-14T10:00Z","level":5.98},
{"series":"Calibrated water level","time":"2011-03-14T10:46Z","level":6.0},
{"series":"Calibrated water level","time":"2011-03-14T11:11Z","level":5.85},
{"series":"Calibrated water level","time":"2011-03-14T11:36Z","level":5.6},
{"series":"Calibrated water level","time":"2011-03-14T12:02Z","level":5.4},
{"series":"Calibrated water level","time":"2011-03-14T12:28Z","level":5.1},
{"series":"Calibrated water level","time":"2011-03-14T12:53Z","level":4.8},
{"series":"Calibrated water level","time":"2011-03-14T13:18Z","level":4.4},
{"series":"Calibrated water level","time":"2011-03-14T13:43Z","level":4.1},
{"series":"Calibrated water level","time":"2011-03-14T14:09Z","level":3.7},
{"series":"Calibrated water level","time":"2011-03-14T14:35Z","level":3.2},
{"series":"Calibrated water level","time":"2011-03-14T15:00Z","level":2.8},
{"series":"Calibrated water level","time":"2011-03-14T15:25Z","level":2.3},
{"series":"Calibrated water level","time":"2011-03-14T15:51Z","level":1.9},
{"series":"Calibrated water level","time":"2011-03-14T16:16Z","level":1.4},
{"series":"Calibrated water level","time":"2011-03-14T16:41Z","level":1.0},
{"series":"Calibrated water level","time":"2011-03-14T17:07Z","level":0.6},
{"series":"Calibrated water level","time":"2011-03-14T17:20Z","level":0.25},
{"series":"Calibrated water level","time":"2011-03-14T17:32Z","level":-0.2},
{"series":"Calibrated water level","time":"2011-03-14T17:45Z","level":-0.6},
{"series":"Calibrated water level","time":"2011-03-14T17:58Z","level":-1.0},
{"series":"Calibrated water level","time":"2011-03-14T18:04Z","level":-1.4},
{"series":"Calibrated water level","time":"2011-03-14T18:11Z","level":-1.8},
{"series":"Calibrated water level","time":"2011-03-14T18:13Z","level":-2.2},
{"series":"Calibrated water level","time":"2011-03-14T18:15Z","level":-2.6},
{"series":"Calibrated water level","time":"2011-03-14T18:18Z","level":-2.9},
{"series":"Calibrated water level","time":"2011-03-14T18:20Z","level":-3.2},
{"series":"Calibrated water level","time":"2011-03-14T18:24Z","level":-3.5},
{"series":"Calibrated water level","time":"2011-03-14T18:26Z","level":-3.7},
{"series":"Calibrated water level","time":"2011-03-14T18:28Z","level":-3.9}
],
"refs": [{"name":"TAF","level":0,"labelAt":"2011-03-18T04:00Z"},{"name":"BAF","level":-3.7,"labelAt":"2011-03-18T04:00Z"}],
"notes": [
{"time":"2011-03-11T14:32Z","level":9.6,"text":"RCIC manually"},
{"time":"2011-03-11T14:32Z","level":8.86,"text":"activated"},
{"time":"2011-03-13T11:28Z","level":9.5,"text":"RCIC injection"},
{"time":"2011-03-13T11:28Z","level":8.76,"text":"stopped（assumption）"},
{"time":"2011-03-14T16:16Z","level":5.72,"text":"SRV manually"},
{"time":"2011-03-15T02:52Z","level":5.0,"text":"opened"},
{"time":"2011-03-12T11:56Z","level":2.73,"text":"TAF reached Around"},
{"time":"2011-03-12T11:56Z","level":1.99,"text":"17:00 on March 14"},
{"time":"2011-03-12T14:04Z","level":-0.66,"text":"BAF reached Around"},
{"time":"2011-03-12T14:04Z","level":-1.4,"text":"18:10 on March14"},
{"time":"2011-03-14T16:16Z","level":-6.9,"text":"Injection of"},
{"time":"2011-03-14T16:16Z","level":-7.64,"text":"seawater started"}
],
"arrows": [
{"time":"2011-03-11T15:36Z","level":8.25,"time2":"2011-03-11T15:36Z","level2":6.7},
{"time":"2011-03-14T08:51Z","level":8.0,"time2":"2011-03-14T08:51Z","level2":7.6},
{"time":"2011-03-14T18:24Z","level":5.05,"time2":"2011-03-14T18:24Z","level2":-0.3},
{"time":"2011-03-13T22:54Z","level":2.06,"time2":"2011-03-14T14:22Z","level2":0.12},
{"time":"2011-03-14T01:01Z","level":-1.65,"time2":"2011-03-14T16:54Z","level2":-3.66},
{"time":"2011-03-14T19:14Z","level":-6.6,"time2":"2011-03-14T19:14Z","level2":-5.45}
],
"heads": [
{"time":"2011-03-11T15:36Z","level":6.62,"dir":"down"},
{"time":"2011-03-14T08:51Z","level":7.52,"dir":"down"},
{"time":"2011-03-14T14:10Z","level":0.2,"dir":"diag"},
{"time":"2011-03-14T16:42Z","level":-3.58,"dir":"diag"},
{"time":"2011-03-14T19:14Z","level":-5.38,"dir":"up"}
]
},
"layer": [
  {"data": {"name": "refs"},
   "mark": {"type": "rule", "color": "#7fb3dc", "strokeWidth": 1.5, "strokeDash": [6, 4]},
   "encoding": {"y": {"field": "level", "type": "quantitative"}}},
  {"data": {"name": "levels"},
   "transform": [{"filter": {"field": "series", "equal": "Downcomer water level（analysis）"}}],
   "mark": {"type": "line", "color": "#e8502e", "strokeWidth": 1.8},
   "encoding": {
     "x": {"field": "time", "type": "temporal",
        "scale": {"type": "utc", "domain": [1299844800000, 1300449600000]},
        "axis": {"title": "Date/time", "values": [1299844800000, 1299888000000, 1299931200000, 1299974400000, 1300017600000, 1300060800000, 1300104000000, 1300147200000, 1300190400000, 1300233600000, 1300276800000, 1300320000000, 1300363200000, 1300406400000, 1300449600000], "labelExpr": "[utcFormat(datum.value, '%-m/%-d'), utcFormat(datum.value, '%-H:%M')]", "labelLineHeight": 17, "labelPadding": 3, "titlePadding": 6, "grid": true, "labelOverlap": false, "labelFlush": false}},
     "y": {"field": "level", "type": "quantitative",
        "scale": {"domain": [-10, 10], "nice": false},
        "axis": {"title": "Reactor water level (m)", "values": [-10, -8, -6, -4, -2, 0, 2, 4, 6, 8, 10], "labelExpr": "'' + datum.value", "labelPadding": 4, "titlePadding": 10, "grid": true}}}},
  {"data": {"name": "levels"},
   "transform": [{"filter": {"field": "series", "equal": "Actual measured value（fuel region A）"}}],
   "mark": {"type": "line", "color": "#f2b24a", "strokeWidth": 1.2},
   "encoding": {"x": {"field": "time", "type": "temporal"}, "y": {"field": "level", "type": "quantitative"}}},
  {"data": {"name": "levels"},
   "transform": [{"filter": {"field": "series", "equal": "Actual measured value（fuel region A）"}}],
   "mark": {"type": "point", "filled": false, "stroke": "#e99a1c", "fill": "#f6c15a", "strokeWidth": 1.2, "size": 34, "opacity": 1},
   "encoding": {"x": {"field": "time", "type": "temporal"}, "y": {"field": "level", "type": "quantitative"}}},
  {"data": {"name": "levels"},
   "transform": [{"filter": {"field": "series", "equal": "Water level inside shroud（analysis）"}}],
   "mark": {"type": "line", "color": "#111111", "strokeWidth": 1.8},
   "encoding": {"x": {"field": "time", "type": "temporal"}, "y": {"field": "level", "type": "quantitative"}}},
  {"data": {"name": "levels"},
   "transform": [{"filter": {"field": "series", "equal": "Calibrated water level"}}],
   "mark": {"type": "line", "color": "#3a5cc0", "strokeWidth": 1},
   "encoding": {"x": {"field": "time", "type": "temporal"}, "y": {"field": "level", "type": "quantitative"}}},
  {"data": {"name": "levels"},
   "transform": [{"filter": {"field": "series", "equal": "Calibrated water level"}}],
   "mark": {"type": "point", "filled": false, "stroke": "#3a5cc0", "fill": "#c8d4f0", "strokeWidth": 1.2, "size": 34, "opacity": 1},
   "encoding": {"x": {"field": "time", "type": "temporal"}, "y": {"field": "level", "type": "quantitative"}}},
  {"data": {"name": "arrows"},
   "mark": {"type": "rule", "color": "#6878a8", "strokeWidth": 1.3},
   "encoding": {"x": {"field": "time", "type": "temporal"}, "y": {"field": "level", "type": "quantitative"}, "x2": {"field": "time2"}, "y2": {"field": "level2"}}},
  {"data": {"name": "heads"},
   "transform": [{"filter": {"field": "dir", "equal": "down"}}],
   "mark": {"type": "point", "shape": "triangle-down", "filled": true, "color": "#6878a8", "size": 30, "opacity": 1},
   "encoding": {"x": {"field": "time", "type": "temporal"}, "y": {"field": "level", "type": "quantitative"}}},
  {"data": {"name": "heads"},
   "transform": [{"filter": {"field": "dir", "equal": "up"}}],
   "mark": {"type": "point", "shape": "triangle-up", "filled": true, "color": "#6878a8", "size": 30, "opacity": 1},
   "encoding": {"x": {"field": "time", "type": "temporal"}, "y": {"field": "level", "type": "quantitative"}}},
  {"data": {"name": "heads"},
   "transform": [{"filter": {"field": "dir", "equal": "diag"}}],
   "mark": {"type": "point", "shape": "triangle-up", "angle": 123, "filled": true, "color": "#6878a8", "size": 30, "opacity": 1},
   "encoding": {"x": {"field": "time", "type": "temporal"}, "y": {"field": "level", "type": "quantitative"}}},
  {"data": {"name": "notes"},
   "mark": {"type": "text", "align": "left", "baseline": "top", "fontSize": 17, "color": "#4a5ab0", "font": "Liberation Sans"},
   "encoding": {"x": {"field": "time", "type": "temporal"}, "y": {"field": "level", "type": "quantitative"}, "text": {"field": "text", "type": "nominal"}}},
  {"data": {"name": "refs"},
   "transform": [{"filter": {"field": "name", "equal": "TAF"}}],
   "mark": {"type": "text", "align": "left", "baseline": "alphabetic", "dy": -2, "fontSize": 16, "color": "#e06a50", "font": "Liberation Sans"},
   "encoding": {"x": {"field": "labelAt", "type": "temporal"}, "y": {"field": "level", "type": "quantitative"}, "text": {"field": "name", "type": "nominal"}}},
  {"data": {"name": "refs"},
   "transform": [{"filter": {"field": "name", "equal": "BAF"}}],
   "mark": {"type": "text", "align": "left", "baseline": "top", "dy": 11, "fontSize": 16, "color": "#e06a50", "font": "Liberation Sans"},
   "encoding": {"x": {"field": "labelAt", "type": "temporal"}, "y": {"field": "level", "type": "quantitative"}, "text": {"field": "name", "type": "nominal"}}},
  {"data": {"name": "levels"},
   "transform": [{"filter": "datum.level > 100"}],
   "mark": {"type": "point", "filled": false, "strokeWidth": 1.6},
   "encoding": {
     "x": {"field": "time", "type": "temporal"}, "y": {"field": "level", "type": "quantitative"},
     "color": {"field": "series", "type": "nominal",
       "scale": {"domain": ["Actual measured value（fuel region A）", "Water level inside shroud（analysis）", "Downcomer water level（analysis）", "Calibrated water level"], "range": ["#f0a21e", "#111111", "#e8502e", "#3a5cc0"]},
       "legend": {"title": null, "orient": "none", "legendX": 456, "legendY": 3, "labelFontSize": 16.5, "labelFont": "Liberation Sans", "labelColor": "#111", "labelLimit": 400, "strokeColor": "#444", "fillColor": "white", "padding": 5, "rowPadding": 5, "symbolSize": 300, "symbolStrokeWidth": 1.6, "labelOffset": 3}},
     "shape": {"field": "series", "type": "nominal",
       "scale": {"domain": ["Actual measured value（fuel region A）", "Water level inside shroud（analysis）", "Downcomer water level（analysis）", "Calibrated water level"], "range": ["M-1,0H-0.45M0.45,0H1M-0.45,0A0.45,0.45 0 1,1 0.45,0A0.45,0.45 0 1,1 -0.45,0Z", "M-1,0H1", "M-1,0H1", "M-1,0H-0.45M0.45,0H1M-0.45,0A0.45,0.45 0 1,1 0.45,0A0.45,0.45 0 1,1 -0.45,0Z"]},
       "legend": {"title": null, "orient": "none", "legendX": 456, "legendY": 3, "labelFontSize": 16.5, "labelFont": "Liberation Sans", "labelColor": "#111", "labelLimit": 400, "strokeColor": "#444", "fillColor": "white", "padding": 5, "rowPadding": 5, "symbolSize": 300, "symbolStrokeWidth": 1.6, "labelOffset": 3}}
   }}
]
}
